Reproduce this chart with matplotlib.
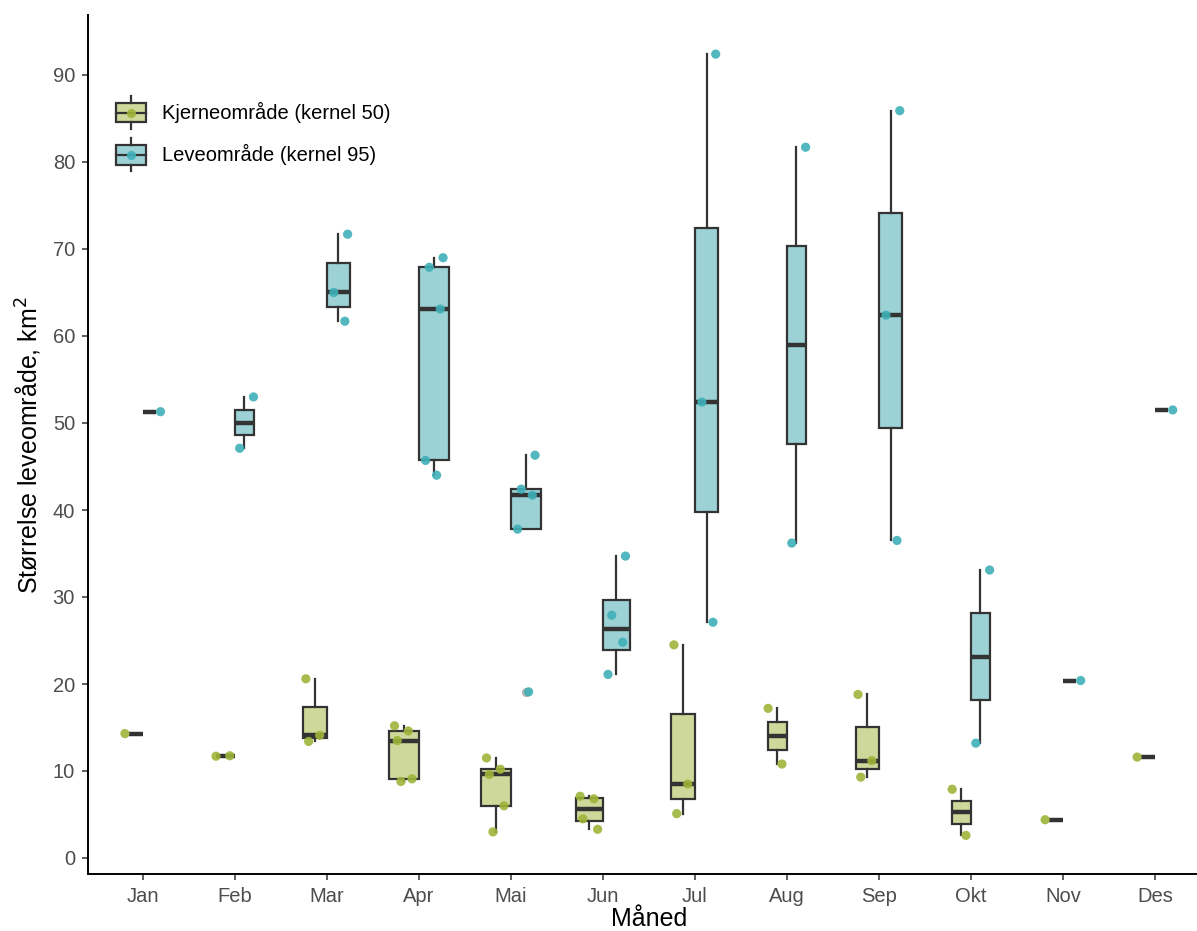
import numpy as np
import matplotlib
matplotlib.use("Agg")
import matplotlib.pyplot as plt
from matplotlib.patches import Patch, Rectangle
from matplotlib.lines import Line2D
from matplotlib.legend_handler import HandlerBase

plt.rcParams['font.family'] = ['Liberation Sans', 'DejaVu Sans']

# Månedlige arealestimater (km2) per individ
maaneder = ["Jan", "Feb", "Mar", "Apr", "Mai", "Jun",
            "Jul", "Aug", "Sep", "Okt", "Nov", "Des"]

kjerne = [
    [14.3],
    [11.7, 11.75],
    [20.6, 14.1, 13.4],
    [15.2, 14.6, 13.5, 9.1, 8.8],
    [11.5, 10.2, 9.6, 6.0, 3.0],
    [7.1, 6.8, 4.5, 3.3],
    [24.5, 8.5, 5.1],
    [17.2, 10.8],
    [18.8, 11.2, 9.3],
    [7.9, 2.6],
    [4.4],
    [11.6],
]

leve = [
    [51.3],
    [53.0, 47.1],
    [71.7, 65.0, 61.7],
    [69.0, 67.9, 63.1, 45.7, 44.0],
    [46.3, 42.4, 41.7, 37.8, 19.1],
    [34.7, 27.9, 24.8, 21.1],
    [92.4, 52.4, 27.1],
    [81.7, 36.2],
    [85.9, 62.4, 36.5],
    [33.1, 13.2],
    [20.4],
    [51.5],
]

etiketter = ["Kjerneområde (kernel 50)", "Leveområde (kernel 95)"]

# farger
fyll = ["#cdd89a", "#9cd2d5"]
punkt = ["#9eb53a", "#3fb0b8"]
kant = "#333333"

W, H = 1197, 931
fig = plt.figure(figsize=(W / 100, H / 100), dpi=100)

# panel i piksler (ggplot-lignende utvidelse)
alle = np.concatenate([np.concatenate(kjerne), np.concatenate(leve)])
lo, hi = alle.min(), alle.max()
ymin, ymax = lo - 0.05 * (hi - lo), hi + 0.05 * (hi - lo)
px_per_unit = 8.7
y0_px = 858
bunn_px = y0_px - ymin * px_per_unit
topp_px = y0_px - ymax * px_per_unit
venstre_px, hoyre_px = 87.5, 87.5 + 12.2 * 92.02
ax = fig.add_axes([venstre_px / W, 1 - bunn_px / H,
                   (hoyre_px - venstre_px) / W, (bunn_px - topp_px) / H])

bredde = 0.1465   # boksbredde per sqrt(n)
jitter = [0.10, -0.05, 0.07, -0.09, 0.03, -0.02]

for g, (data, side) in enumerate([(kjerne, -1), (leve, 1)]):
    for i, verdier in enumerate(data):
        n = len(verdier)
        w = bredde * np.sqrt(n)
        sentrum = i + side * w / 2
        ax.boxplot([verdier], positions=[sentrum], widths=w, whis=1.5,
                   patch_artist=True, showcaps=False, manage_ticks=False,
                   boxprops=dict(facecolor=fyll[g], edgecolor=kant, linewidth=1.6),
                   whiskerprops=dict(color=kant, linewidth=1.6),
                   medianprops=dict(color=kant, linewidth=3.2, solid_capstyle='butt'),
                   flierprops=dict(marker='o', markerfacecolor='#555555',
                                   markeredgecolor='none', alpha=0.45,
                                   markersize=6.6))
        xs = [sentrum + side * jitter[k % len(jitter)] * (1 if n > 1 else 1.2)
              for k in range(n)]
        ax.scatter(xs, verdier, s=44, color=punkt[g], alpha=0.9,
                   edgecolors='none', zorder=3)

ax.set_xlim(-0.6, 11.6)
ax.set_ylim(ymin, ymax)
ax.set_xticks(range(12))
ax.set_xticklabels(maaneder)
ax.set_yticks(np.arange(0, 91, 10))

for s in ['top', 'right']:
    ax.spines[s].set_visible(False)
for s in ['left', 'bottom']:
    ax.spines[s].set_linewidth(1.4)
    ax.spines[s].set_color('black')
ax.tick_params(axis='both', length=4, width=1.1, color='#333333',
               labelcolor='#4d4d4d', labelsize=14.5, pad=5)

ax.set_xlabel("Måned", fontsize=18, labelpad=1)
ax.set_ylabel("Størrelse leveområde, km$^2$", fontsize=18, labelpad=6)


class BoksNokkel(HandlerBase):
    def __init__(self, farge):
        super().__init__()
        self.farge = farge

    def create_artists(self, legend, orig_handle, xdescent, ydescent,
                       width, height, fontsize, trans):
        x0, y0 = -xdescent, -ydescent
        xm = x0 + width / 2
        fc = orig_handle.get_facecolor()
        rect = Rectangle((x0, y0 + 0.2 * height), width, 0.6 * height,
                         facecolor=fc, edgecolor=kant, linewidth=1.6,
                         transform=trans)
        w1 = Line2D([xm, xm], [y0, y0 + 0.2 * height], color=kant,
                    linewidth=1.6, transform=trans)
        w2 = Line2D([xm, xm], [y0 + 0.8 * height, y0 + height], color=kant,
                    linewidth=1.6, transform=trans)
        med = Line2D([x0, x0 + width], [y0 + 0.5 * height] * 2, color=kant,
                     linewidth=1.6, transform=trans)
        pkt = Line2D([xm], [y0 + 0.5 * height], marker='o', markersize=6.6,
                     color=self.farge, alpha=0.9, markeredgecolor='none',
                     linestyle='none', transform=trans)
        return [rect, w1, w2, med, pkt]


handles = [Patch(facecolor=fyll[0]), Patch(facecolor=fyll[1])]
ax.legend(handles, etiketter, loc='upper left',
          bbox_to_anchor=(116 / W, 1 - 96 / H), bbox_transform=fig.transFigure,
          frameon=False, fontsize=14.5, handlelength=1.5, handleheight=2.15,
          handletextpad=0.8, labelspacing=0.45, borderpad=0, borderaxespad=0,
          handler_map={handles[0]: BoksNokkel(punkt[0]),
                       handles[1]: BoksNokkel(punkt[1])})

fig.savefig("out.png", dpi=100)
